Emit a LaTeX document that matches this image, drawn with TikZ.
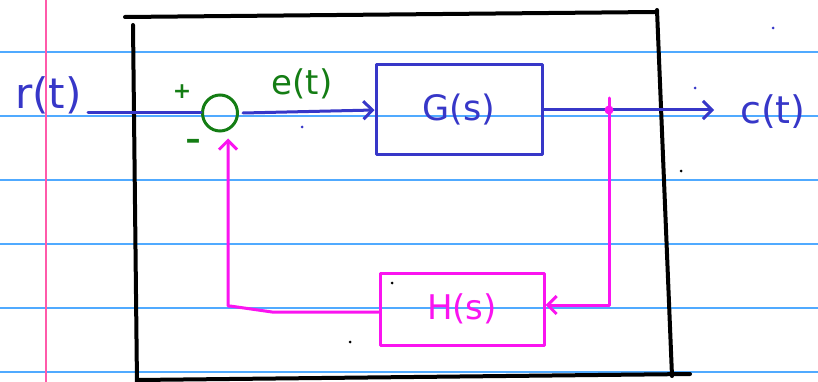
\documentclass[tikz,border=0pt]{standalone}
\usepackage{fontspec}
\setmainfont{DejaVu Sans}
\usetikzlibrary{arrows.meta,shapes.geometric}
\definecolor{inkblue}{RGB}{55,55,200}
\definecolor{inkgreen}{RGB}{20,125,20}
\definecolor{inkmag}{RGB}{250,20,240}
\definecolor{ruleblue}{RGB}{80,170,255}
\definecolor{marginpink}{RGB}{255,90,170}
\tikzset{
  rule/.style={draw=ruleblue, line width=1.6pt},
  marginline/.style={draw=marginpink, line width=1.6pt},
  frame/.style={draw=black, line width=4pt, line cap=round},
  bl/.style={draw=inkblue, line width=3pt, line cap=round, line join=round},
  mg/.style={draw=inkmag, line width=3pt, line cap=round, line join=round},
  barb/.style={-{Straight Barb[length=9pt,width=18pt,line width=3pt]}},
  blk/.style={bl, rectangle, inner sep=0pt},
  fbk/.style={mg, rectangle, inner sep=0pt},
  sumc/.style={draw=inkgreen, line width=3pt, ellipse, inner sep=0pt},
  dot/.style={circle, fill, inner sep=0pt, minimum size=3pt},
}
\begin{document}
\begin{tikzpicture}[x=1pt,y=-1pt]
\useasboundingbox (0,0) rectangle (818,382);
% ruled paper
\fill[white] (0,0) rectangle (818,382);
\foreach \yy in {52,116,180,244,308,372}
  \draw[rule] (0,\yy) -- (818,\yy);
\draw[marginline] (46,0) -- (46,382);
% black frame
\draw[frame] (125,17) -- (655,12);
\draw[frame] (133,25) -- (137,384);
\draw[frame] (657,10) -- (672,376);
\draw[frame] (137,380) -- (690,374);
% blocks
\node[blk, minimum width=166pt, minimum height=90pt] (G) at (459,110)
  {\fontsize{35}{35}\selectfont\color{inkblue}G(s)};
\node[fbk, minimum width=164pt, minimum height=72pt] (H) at (462,309)
  {\fontsize{34}{34}\selectfont\color{inkmag}H(s)};
\node[sumc, minimum width=35pt, minimum height=36pt] (sum) at (220,113) {};
% signal labels
\node[anchor=east, inner sep=0pt, text=inkblue, font=\fontsize{42}{42}\selectfont] (r) at (82,95) {r(t)};
\node[anchor=west, inner sep=0pt, text=inkblue, font=\fontsize{38}{38}\selectfont] (c) at (740,112) {c(t)};
\node[text=inkgreen, font=\fontsize{34}{34}\selectfont] (e) at (302,84) {e(t)};
\node[text=inkgreen, font=\bfseries\fontsize{22}{22}\selectfont] (plus) at (182,92) {+};
\node[text=inkgreen, font=\bfseries\fontsize{30}{30}\selectfont] (minus) at (193,144) {\textendash};
% forward path
\draw[bl] (r.east |- sum.west) ++(6,0) -- (sum.west);
\draw[bl, barb] (sum.east) ++(4,0) -- (G.west);
\coordinate (br) at (609,110);
\draw[bl, barb, shorten >=26pt] (G.east) -- (c.west |- G.east);
\fill[inkmag] (br) circle (4.5pt);
% feedback path
\draw[mg, barb] ([yshift=12pt]br) |- (H.east |- 0,305);
\draw[mg, barb, shorten >=6pt] (H.west |- 0,312) -- (272,312) -- (230,306)
  -- ([xshift=8pt]sum.south |- 0,306) -- ([xshift=8pt]sum.south);
% stray pen marks
\node[dot, fill=inkblue] (d1) at (302,127) {};
\node[dot, fill=inkblue] (d2) at (695,88) {};
\node[dot, fill=inkblue] (d3) at (773,28) {};
\node[dot, fill=black] (d4) at (681,171) {};
\node[dot, fill=black] (d5) at (392,283) {};
\node[dot, fill=black] (d6) at (350,342) {};
\end{tikzpicture}
\end{document}
